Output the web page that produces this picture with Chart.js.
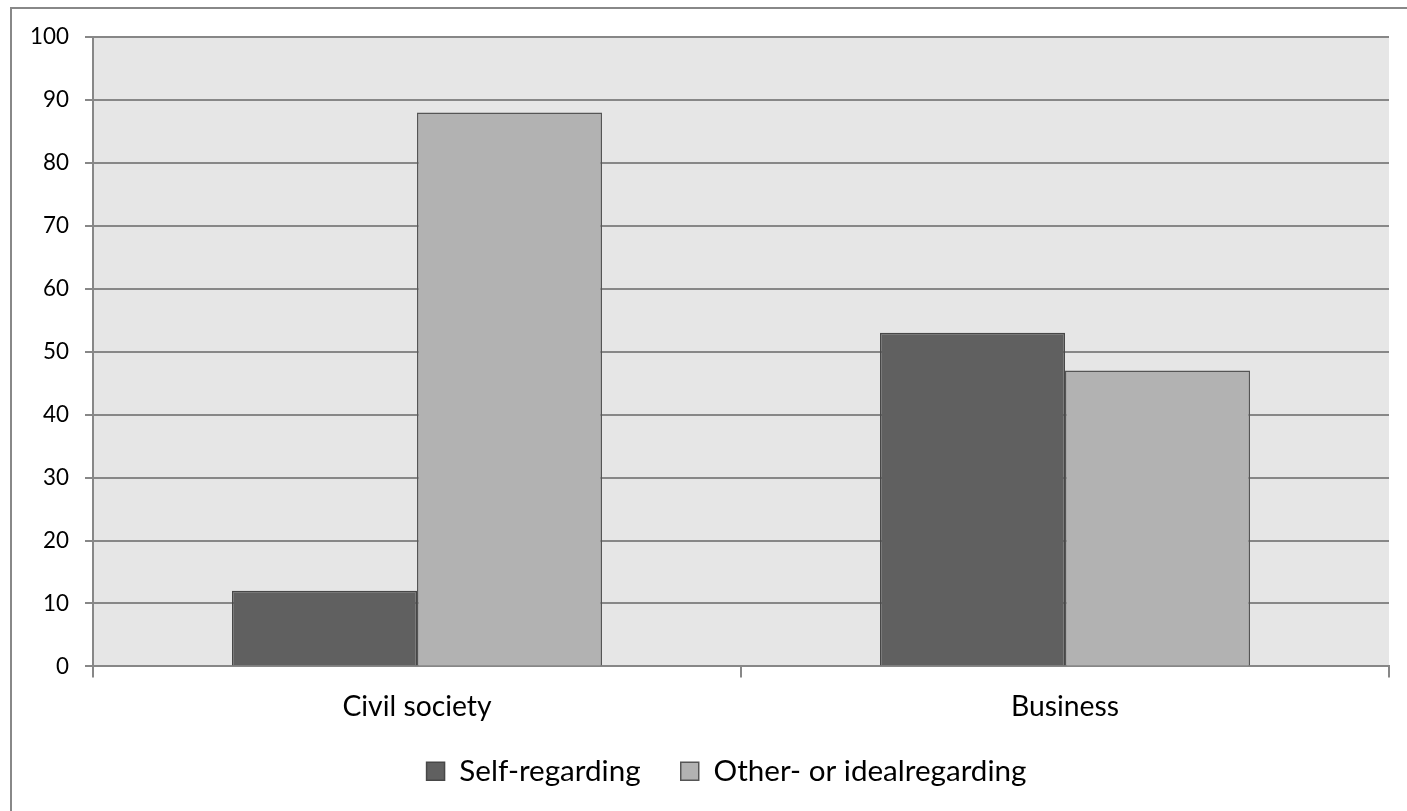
<!DOCTYPE html>
<html>
<head>
<meta charset="utf-8">
<script src="https://cdn.jsdelivr.net/npm/chart.js@4.4.1/dist/chart.umd.min.js"></script>
<style>
  html, body { margin: 0; padding: 0; background: #ffffff; }
  #wrap { width: 1407px; height: 811px; position: relative; }
</style>
</head>
<body>
<div id="wrap"><canvas id="chart"></canvas></div>
<script>
const categories = ['Civil society', 'Business'];
const selfRegarding = [12, 53];
const otherRegarding = [88, 47];
const seriesNames = ['Self-regarding', 'Other- or idealregarding'];

const FAMILY = "Lato, 'Open Sans', sans-serif";
const GRID = '#878787';

// pick a font size so a sample string comes out about as wide as in the original
function fitSize(sample, targetWidth) {
  const ctx = document.createElement('canvas').getContext('2d');
  ctx.font = `100px ${FAMILY}`;
  return Math.round(1000 * targetWidth / ctx.measureText(sample).width) / 10;
}

const tickSize = fitSize('100', 39);
const catSize = fitSize('Civil society', 149);
const legendSize = fitSize('Self-regarding', 181);

// grey plot background + outer frame
const backdrop = {
  id: 'backdrop',
  afterLayout(chart) {
    // original legend sits a bit right of the canvas centre
    chart.legend.left += 32;
    chart.legend.right += 32;
  },
  beforeDraw(chart) {
    const { ctx, chartArea } = chart;
    ctx.save();
    ctx.strokeStyle = '#888888';
    ctx.lineWidth = 2;
    ctx.strokeRect(11, 8, 1420, 830);
    ctx.fillStyle = '#e6e6e6';
    ctx.fillRect(chartArea.left, chartArea.top, chartArea.right - chartArea.left, chartArea.bottom - chartArea.top);
    ctx.restore();
  }
};

new Chart(document.getElementById('chart'), {
  type: 'bar',
  data: {
    labels: categories,
    datasets: [
      {
        label: seriesNames[0],
        data: selfRegarding,
        backgroundColor: '#606060',
        borderColor: '#474747',
        borderWidth: 1.5,
        categoryPercentage: 0.571,
        barPercentage: 1.0
      },
      {
        label: seriesNames[1],
        data: otherRegarding,
        backgroundColor: '#b2b2b2',
        borderColor: '#555555',
        borderWidth: 1.5,
        categoryPercentage: 0.571,
        barPercentage: 1.0
      }
    ]
  },
  options: {
    responsive: true,
    maintainAspectRatio: false,
    animation: false,
    layout: { padding: { top: 37, right: 18, left: 0, bottom: 15 } },
    plugins: {
      tooltip: { enabled: false },
      legend: {
        position: 'bottom',
        labels: {
          color: '#000000',
          font: { family: FAMILY, size: legendSize },
          boxWidth: 18,
          boxHeight: 18,
          padding: 18,
          generateLabels(chart) {
            const items = Chart.defaults.plugins.legend.labels.generateLabels(chart);
            // wider gap after the first entry, as in the original
            items[0].text += '\u2003';
            return items;
          }
        }
      }
    },
    scales: {
      x: {
        grid: { display: true, drawOnChartArea: false, drawTicks: true, tickLength: 11, color: GRID, lineWidth: 2, offset: true },
        border: { display: true, color: GRID, width: 2 },
        ticks: { color: '#000000', font: { family: FAMILY, size: catSize }, padding: 12 },
        afterFit(scale) { scale.height = 72; }
      },
      y: {
        min: 0,
        max: 100,
        ticks: { stepSize: 10, color: '#000000', font: { family: FAMILY, size: tickSize }, padding: 16 },
        grid: { color: GRID, lineWidth: 2, tickLength: 8, drawTicks: true },
        border: { display: true, color: GRID, width: 2 },
        afterFit(scale) { scale.width = 93; }
      }
    }
  },
  plugins: [backdrop]
});
</script>
</body>
</html>
